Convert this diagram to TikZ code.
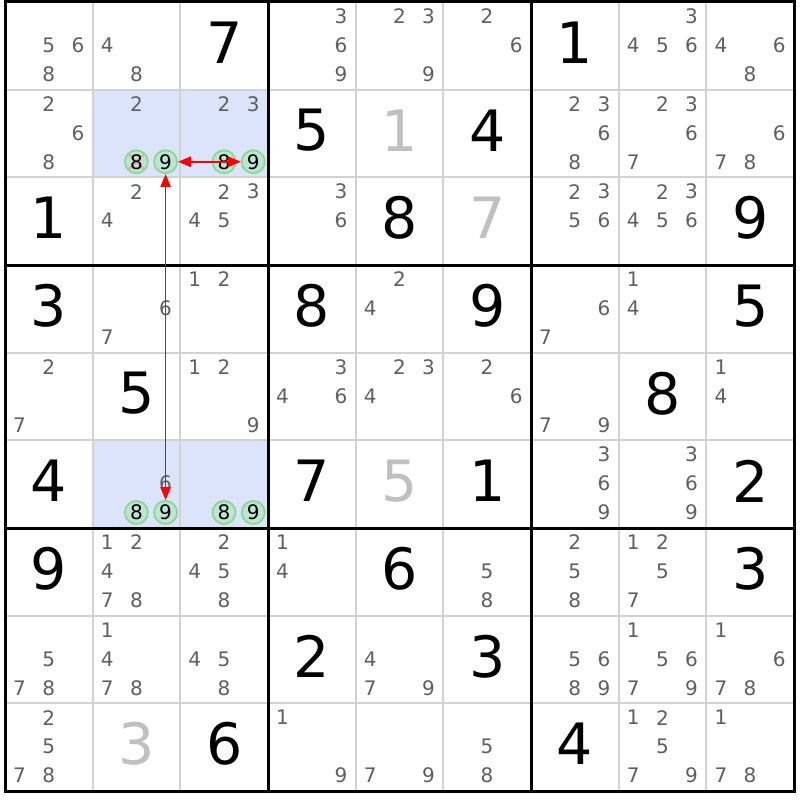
\documentclass[tikz,border=0pt]{standalone}
\usepackage{fontspec}
\setmainfont{DejaVu Sans}
\usetikzlibrary{arrows.meta}
\definecolor{candgray}{RGB}{95,95,95}
\definecolor{solvedgray}{RGB}{192,192,192}
\definecolor{thingrid}{RGB}{210,210,210}
\definecolor{hlblue}{RGB}{220,228,251}
\definecolor{ringline}{RGB}{135,218,145}
\definecolor{ringfill}{RGB}{190,229,212}
\definecolor{crosspink}{RGB}{244,160,170}
\definecolor{linkred}{RGB}{255,0,0}
\def\S{87.67}
\def\ox{5}
\def\oy{2}
\newcommand\cpos[3]{%
  \pgfmathsetmacro\cx{\ox+(#2-1)*\S+14.5+29.2*mod(#3-1,3)}%
  \pgfmathsetmacro\cy{\oy+(#1-1)*\S+14.3+28.9*floor((#3-1)/3)}%
}
\newcommand\cands[3]{\foreach \d in {#3}{\cpos{#1}{#2}{\d}\node[cand] (k#1#2\d) at (\cx,\cy) {\d};}}
\newcommand\given[3]{\node[given] (g#1#2) at ({\ox+(#2-0.5)*\S},{\oy+(#1-0.5)*\S-3}) {#3};}
\newcommand\solved[3]{\node[given,text=solvedgray] (g#1#2) at ({\ox+(#2-0.5)*\S},{\oy+(#1-0.5)*\S-3}) {#3};}
\newcommand\ringbody[3]{\cpos{#1}{#2}{#3}\node[ring] (o#1#2#3) at (\cx,\cy) {};}
\newcommand\ringtext[3]{\node[ringtxt] (t#1#2#3) at (o#1#2#3) {#3};}
\newcommand\hlcell[2]{\fill[hlblue] ({\ox+(#2-1)*\S},{\oy+(#1-1)*\S}) rectangle ({\ox+#2*\S},{\oy+#1*\S});}
\begin{document}
\begin{tikzpicture}[x=1pt,y=-1pt,
  cand/.style={inner sep=0pt,text=candgray,font=\fontsize{20}{20}\selectfont},
  given/.style={inner sep=0pt,text=black,font=\fontsize{57}{57}\selectfont},
  ring/.style={circle,minimum size=23pt,inner sep=0pt,draw=ringline,fill=ringfill,line width=1.8pt},
  ringtxt/.style={inner sep=0pt,text=black,font=\fontsize{20}{20}\selectfont},
  thinline/.style={draw=thingrid,line width=1.8pt},
  thickline/.style={draw=black,line width=3pt},
  crossline/.style={draw=crosspink,line width=2pt},
  arr/.style={draw=linkred,fill=linkred,line width=1.5pt,{Triangle[length=13pt,width=10.5pt]}-{Triangle[length=13pt,width=10.5pt]}}]
\useasboundingbox (0,0) rectangle (800,800);
\fill[white] (0,0) rectangle (800,800);
% highlighted cells
\hlcell{2}{2}\hlcell{2}{3}\hlcell{6}{2}\hlcell{6}{3}
% thin grid
\foreach \i in {1,2,4,5,7,8}{
  \draw[thinline] ({\ox+\i*\S},\oy) -- ({\ox+\i*\S},{\oy+9*\S});
  \draw[thinline] (\ox,{\oy+\i*\S}) -- ({\ox+9*\S},{\oy+\i*\S});
}
% givens
\given{1}{3}{7}\given{1}{7}{1}
\given{2}{4}{5}\solved{2}{5}{1}\given{2}{6}{4}
\given{3}{1}{1}\given{3}{5}{8}\solved{3}{6}{7}\given{3}{9}{9}
\given{4}{1}{3}\given{4}{4}{8}\given{4}{6}{9}\given{4}{9}{5}
\given{5}{2}{5}\given{5}{8}{8}
\given{6}{1}{4}\given{6}{4}{7}\solved{6}{5}{5}\given{6}{6}{1}\given{6}{9}{2}
\given{7}{1}{9}\given{7}{5}{6}\given{7}{9}{3}
\given{8}{4}{2}\given{8}{6}{3}
\solved{9}{2}{3}\given{9}{3}{6}\given{9}{7}{4}
% candidates
\cands{1}{1}{5,6,8}\cands{1}{2}{4,8}\cands{1}{4}{3,6,9}\cands{1}{5}{2,3,9}\cands{1}{6}{2,6}
\cands{1}{8}{3,4,5,6}\cands{1}{9}{4,6,8}
\cands{2}{1}{2,6,8}\cands{2}{2}{2}\cands{2}{3}{2,3}\cands{2}{7}{2,3,6,8}\cands{2}{8}{2,3,6,7}\cands{2}{9}{6,7,8}
\cands{3}{2}{2,4}\cands{3}{3}{2,3,4,5}\cands{3}{4}{3,6}\cands{3}{7}{2,3,5,6}\cands{3}{8}{2,3,4,5,6}
\cands{4}{2}{6,7}\cands{4}{3}{1,2}\cands{4}{5}{2,4}\cands{4}{7}{6,7}\cands{4}{8}{1,4}
\cands{5}{1}{2,7}\cands{5}{3}{1,2,9}\cands{5}{4}{3,4,6}\cands{5}{5}{2,3,4}\cands{5}{6}{2,6}\cands{5}{7}{7,9}\cands{5}{9}{1,4}
\cands{6}{2}{6}\cands{6}{7}{3,6,9}\cands{6}{8}{3,6,9}
\cands{7}{2}{1,2,4,7,8}\cands{7}{3}{2,4,5,8}\cands{7}{4}{1,4}\cands{7}{6}{5,8}\cands{7}{7}{2,5,8}\cands{7}{8}{1,2,5,7}
\cands{8}{1}{5,7,8}\cands{8}{2}{1,4,7,8}\cands{8}{3}{4,5,8}\cands{8}{5}{4,7,9}\cands{8}{7}{5,6,8,9}\cands{8}{8}{1,5,6,7,9}\cands{8}{9}{1,6,7,8}
\cands{9}{1}{2,5,7,8}\cands{9}{4}{1,9}\cands{9}{5}{7,9}\cands{9}{6}{5,8}\cands{9}{8}{1,2,5,7,9}\cands{9}{9}{1,7,8}
% ringed candidates
\ringbody{2}{2}{8}\ringbody{2}{2}{9}\ringbody{2}{3}{8}\ringbody{2}{3}{9}
\ringbody{6}{2}{8}\ringbody{6}{2}{9}\ringbody{6}{3}{8}\ringbody{6}{3}{9}
\draw[crossline,shorten <=2pt,shorten >=2pt] (o228.north west) -- (o228.south east);
\draw[crossline,shorten <=2pt,shorten >=2pt] (o228.north east) -- (o228.south west);
\ringtext{2}{2}{8}\ringtext{2}{2}{9}\ringtext{2}{3}{8}\ringtext{2}{3}{9}
\ringtext{6}{2}{8}\ringtext{6}{2}{9}\ringtext{6}{3}{8}\ringtext{6}{3}{9}
% thick grid
\foreach \i in {3,6}{
  \draw[thickline] ({\ox+\i*\S},\oy) -- ({\ox+\i*\S},{\oy+9*\S});
  \draw[thickline] (\ox,{\oy+\i*\S}) -- ({\ox+9*\S},{\oy+\i*\S});
}
\draw[thickline] (\ox,\oy) rectangle ({\ox+9*\S},{\oy+9*\S});
% links
\draw[arr] (o229) -- (o239);
\draw[arr] (o229) -- (o629);
\end{tikzpicture}
\end{document}
